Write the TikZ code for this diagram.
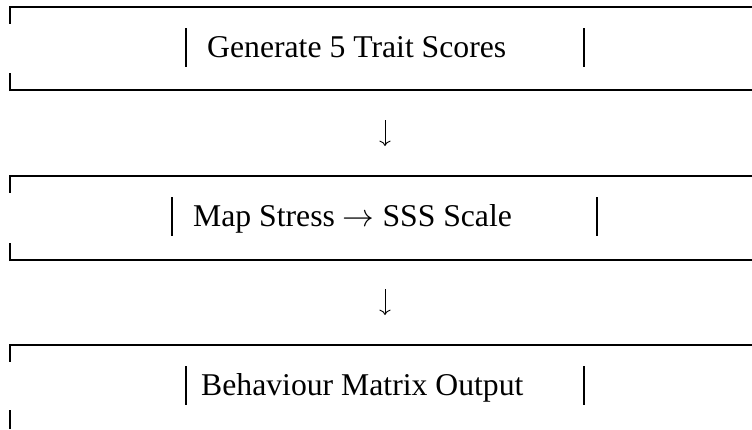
\RequirePackage{fix-cm}
\documentclass[tikz,border=0pt]{standalone}
\usepackage{fontspec}
\setmainfont{Liberation Serif}
\usetikzlibrary{arrows.meta}
\tikzset{
  frameline/.style={line width=2pt, line cap=butt},
  tickline/.style={line width=2.6pt, line cap=butt},
  barline/.style={line width=2.6pt, line cap=butt},
  steptext/.style={font=\fontsize{31.7}{32}\selectfont, inner sep=0pt, anchor=base west},
  flowarrow/.style={line width=0.9pt, -{Computer Modern Rightarrow[scale=1.5]}},
}
\begin{document}
\begin{tikzpicture}[x=1pt,y=-1pt]
\useasboundingbox (0,0) rectangle (752,429);
% box 1
\coordinate (b1tl) at (10,7);
\coordinate (b1tr) at (752,7);
\coordinate (b1bl) at (10,90);
\coordinate (b1br) at (752,90);
\draw[frameline] (b1tl) -- (b1tr);
\draw[frameline] (b1bl) -- (b1br);
\draw[tickline] ([yshift=1pt]b1tl) -- ++(0,18);
\draw[tickline] ([yshift=-1pt]b1bl) -- ++(0,-18);
\node[steptext] (t1) at (207,57) {Generate 5 Trait Scores};
\coordinate (t1l) at (186,28); \coordinate (t1r) at (584,28);
\draw[barline] (t1l) -- ++(0,39);
\draw[barline] (t1r) -- ++(0,39);
\coordinate (a1s) at (385,120);
\coordinate (a1e) at (385,146);
\draw[flowarrow] (a1s) -- (a1e);
% box 2
\coordinate (b2tl) at (10,176);
\coordinate (b2tr) at (752,176);
\coordinate (b2bl) at (10,260);
\coordinate (b2br) at (752,260);
\draw[frameline] (b2tl) -- (b2tr);
\draw[frameline] (b2bl) -- (b2br);
\draw[tickline] ([yshift=1pt]b2tl) -- ++(0,18);
\draw[tickline] ([yshift=-1pt]b2bl) -- ++(0,-18);
\node[steptext] (t2) at (193,226) {Map Stress $\rightarrow$ SSS Scale};
\coordinate (t2l) at (172,197); \coordinate (t2r) at (597,197);
\draw[barline] (t2l) -- ++(0,39);
\draw[barline] (t2r) -- ++(0,39);
\coordinate (a2s) at (385,289);
\coordinate (a2e) at (385,315);
\draw[flowarrow] (a2s) -- (a2e);
% box 3
\coordinate (b3tl) at (10,345);
\coordinate (b3tr) at (752,345);
\coordinate (b3bl) at (10,429);
\draw[frameline] (b3tl) -- (b3tr);
\draw[tickline] ([yshift=1pt]b3tl) -- ++(0,18);
\draw[tickline] (b3bl) -- ++(0,-19);
\node[steptext] (t3) at (201,395) {Behaviour Matrix Output};
\coordinate (t3l) at (186,366); \coordinate (t3r) at (584,366);
\draw[barline] (t3l) -- ++(0,39);
\draw[barline] (t3r) -- ++(0,39);
\end{tikzpicture}
\end{document}
